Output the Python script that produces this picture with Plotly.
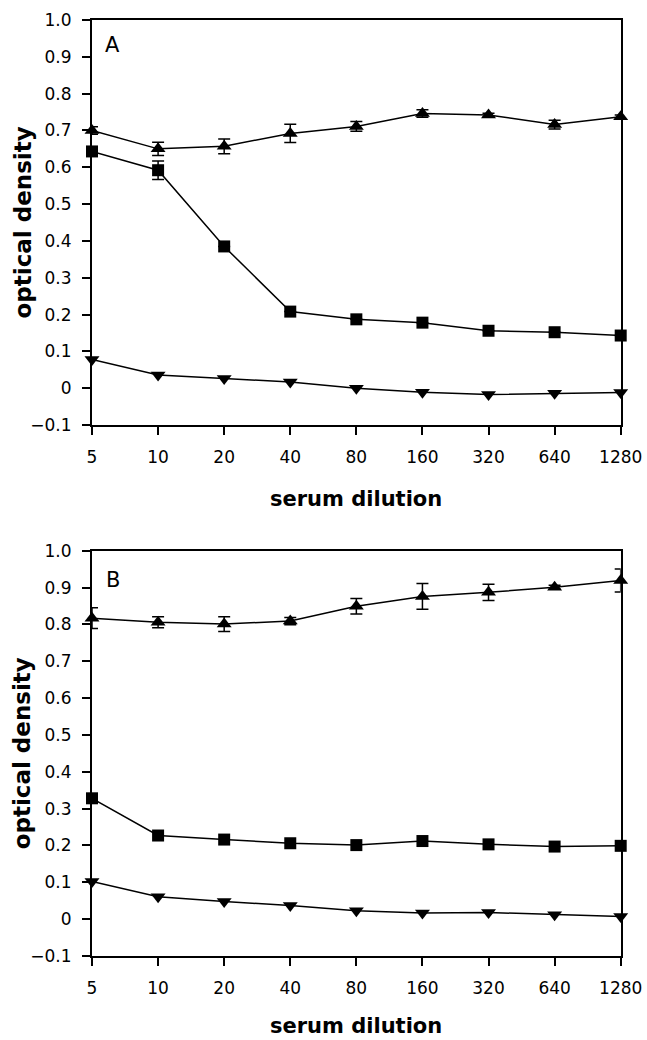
import math
import plotly.graph_objects as go

dilutions = [5, 10, 20, 40, 80, 160, 320, 640, 1280]
dilution_labels = ["5", "10", "20", "40", "80", "160", "320", "640", "1280"]
y_ticks = [-0.1, 0, 0.1, 0.2, 0.3, 0.4, 0.5, 0.6, 0.7, 0.8, 0.9, 1.0]
y_tick_labels = ["\u22120.1", "0", "0.1", "0.2", "0.3", "0.4", "0.5", "0.6", "0.7", "0.8", "0.9", "1.0"]

# Panel A
a_up = [0.70, 0.650, 0.657, 0.692, 0.711, 0.746, 0.742, 0.716, 0.737]
a_up_err = [0.010, 0.018, 0.020, 0.025, 0.013, 0.010, 0.005, 0.012, 0.005]
a_sq = [0.643, 0.592, 0.385, 0.208, 0.187, 0.178, 0.156, 0.152, 0.143]
a_sq_err = [0.010, 0.025, 0.0, 0.0, 0.0, 0.0, 0.0, 0.0, 0.0]
a_down = [0.078, 0.036, 0.026, 0.017, 0.0, -0.011, -0.017, -0.014, -0.012]

# Panel B
b_up = [0.817, 0.806, 0.801, 0.809, 0.849, 0.876, 0.887, 0.901, 0.919]
b_up_err = [0.028, 0.015, 0.020, 0.010, 0.021, 0.035, 0.022, 0.005, 0.031]
b_sq = [0.328, 0.227, 0.216, 0.206, 0.201, 0.212, 0.203, 0.197, 0.199]
b_down = [0.102, 0.061, 0.048, 0.037, 0.023, 0.017, 0.018, 0.012, 0.007]

W, H = 647, 1040
x_dom = [92 / W, 620.7 / W]
a_dom = [1 - 425 / H, 1 - 20 / H]
b_dom = [1 - 956 / H, 1 - 550.7 / H]

FONT = "DejaVu Sans"

fig = go.Figure()


def add_series(y, err, symbol, size, xa, ya):
    kw = {}
    if err is not None:
        kw["error_y"] = dict(type="data", array=err, visible=True, color="black",
                             thickness=1.5, width=6)
    fig.add_trace(go.Scatter(
        x=dilutions, y=y, mode="lines+markers", xaxis=xa, yaxis=ya,
        line=dict(color="black", width=1.5),
        marker=dict(symbol=symbol, size=size, color="black"),
        cliponaxis=False, showlegend=False, **kw))


add_series(a_up, a_up_err, "triangle-up", 13, "x", "y")
add_series(a_sq, a_sq_err, "square", 12, "x", "y")
add_series(a_down, None, "triangle-down", 13, "x", "y")
add_series(b_up, b_up_err, "triangle-up", 13, "x2", "y2")
add_series(b_sq, None, "square", 12, "x2", "y2")
add_series(b_down, None, "triangle-down", 13, "x2", "y2")

eps = 1e-6
xaxis_common = dict(
    type="log", range=[math.log10(5) - eps, math.log10(1280) + eps],
    tickvals=dilutions, ticktext=dilution_labels,
    showline=True, linecolor="black", linewidth=2, mirror=True,
    ticks="outside", ticklen=8, tickwidth=1.5, tickcolor="black",
    showgrid=False, zeroline=False, domain=x_dom, automargin=False,
    tickfont=dict(family=FONT, size=17, color="black"),
    ticklabelstandoff=8,
)
yaxis_common = dict(
    range=[-0.1, 1.0], tickvals=y_ticks, ticktext=y_tick_labels,
    showline=True, linecolor="black", linewidth=2, mirror=True,
    ticks="outside", ticklen=8, tickwidth=1.5, tickcolor="black",
    showgrid=False, zeroline=False, automargin=False,
    tickfont=dict(family=FONT, size=17, color="black"),
    ticklabelstandoff=7,
)

fig.update_layout(
    width=W, height=H, margin=dict(l=0, r=0, t=0, b=0, autoexpand=False),
    paper_bgcolor="white", plot_bgcolor="white",
    xaxis=dict(**xaxis_common, anchor="y"),
    yaxis=dict(**yaxis_common, domain=a_dom, anchor="x"),
    xaxis2=dict(**xaxis_common, anchor="y2"),
    yaxis2=dict(**yaxis_common, domain=b_dom, anchor="x2"),
)

xc = (x_dom[0] + x_dom[1]) / 2
for dom, letter, ly, title_off in [(a_dom, "A", 45, 74), (b_dom, "B", 580, 70)]:
    bottom_px = (1 - dom[0]) * H
    fig.add_annotation(text="<b>serum dilution</b>", xref="paper", yref="paper",
                       x=xc, y=1 - (bottom_px + title_off) / H, showarrow=False,
                       font=dict(family=FONT, size=21, color="black"),
                       xanchor="center", yanchor="middle")
    fig.add_annotation(text="<b>optical density</b>", xref="paper", yref="paper",
                       x=22 / W, y=(dom[0] + dom[1]) / 2, showarrow=False,
                       textangle=-90, font=dict(family=FONT, size=23, color="black"),
                       xanchor="center", yanchor="middle")
    fig.add_annotation(text=letter, xref="paper", yref="paper",
                       x=113 / W, y=1 - ly / H, showarrow=False,
                       font=dict(family=FONT, size=21, color="black"),
                       xanchor="center", yanchor="middle")

fig.write_html("out.html", config={"displayModeBar": False},
               post_script="document.body.style.margin='0';document.body.style.overflow='hidden';")
